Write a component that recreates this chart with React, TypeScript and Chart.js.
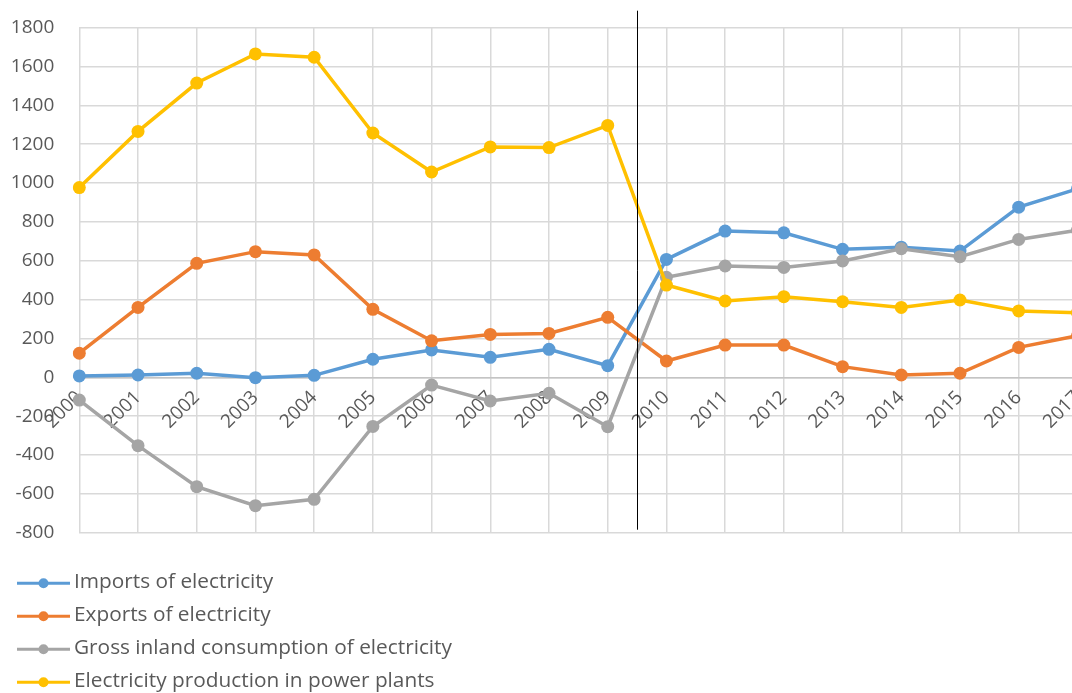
import React, { useEffect, useRef } from "react";
import { Chart, registerables } from "chart.js";

Chart.register(...registerables);

// Annual electricity balance, 2000–2017
const years = [
  "2000", "2001", "2002", "2003", "2004", "2005", "2006", "2007", "2008",
  "2009", "2010", "2011", "2012", "2013", "2014", "2015", "2016", "2017",
];
const importsOfElectricity = [7, 12, 21, -2, 10, 93, 141, 103, 144, 60, 607, 753, 744, 659, 670, 650, 876, 970];
const exportsOfElectricity = [124, 360, 587, 647, 630, 350, 188, 221, 226, 309, 84, 166, 166, 55, 12, 21, 154, 214];
const grossInlandConsumption = [-117, -352, -563, -661, -628, -253, -40, -122, -82, -254, 515, 573, 566, 599, 662, 621, 710, 757];
const powerPlantProduction = [977, 1266, 1515, 1665, 1648, 1258, 1057, 1186, 1183, 1297, 475, 393, 415, 389, 360, 398, 342, 333];

const seriesLabels = [
  "Imports of electricity",
  "Exports of electricity",
  "Gross inland consumption of electricity",
  "Electricity production in power plants",
];
const seriesColors = ["#5B9BD5", "#ED7D31", "#A5A5A5", "#FFC000"];

const yMin = -800;
const yMax = 1800;
const yStep = 200;

// the divider sits halfway between these two years
const dividerBetween = ["2009", "2010"];

const FONT = "'Open Sans', sans-serif";
const TEXT_COLOR = "#595959";
const GRID_COLOR = "#d9d9d9";

const CANVAS_W = 1100;
const CANVAS_H = 693;

const dividerPlugin = {
  id: "periodDivider",
  afterDatasetsDraw(chart: any) {
    const x = chart.scales.x;
    const a = years.indexOf(dividerBetween[0]);
    const b = years.indexOf(dividerBetween[1]);
    const px = Math.round((x.getPixelForValue(a) + x.getPixelForValue(b)) / 2) + 0.5;
    const { top, bottom } = chart.chartArea;
    const ctx = chart.ctx;
    ctx.save();
    ctx.strokeStyle = "#000000";
    ctx.lineWidth = 1;
    ctx.beginPath();
    ctx.moveTo(px, top - 17);
    ctx.lineTo(px, bottom - 3);
    ctx.stroke();
    ctx.restore();
  },
};

// vertical legend: one row per series, line + marker + label
const stackedLegendPlugin = {
  id: "stackedLegend",
  afterDraw(chart: any) {
    const ctx = chart.ctx;
    const rowTop = chart.chartArea.bottom + 50.5;
    const rowGap = 33;
    ctx.save();
    chart.data.datasets.forEach((ds: any, i: number) => {
      const y = rowTop + i * rowGap;
      ctx.strokeStyle = ds.borderColor;
      ctx.lineWidth = 3;
      ctx.beginPath();
      ctx.moveTo(17, y);
      ctx.lineTo(70, y);
      ctx.stroke();
      ctx.fillStyle = ds.borderColor;
      ctx.beginPath();
      ctx.arc(43.5, y, 5, 0, Math.PI * 2);
      ctx.fill();
      ctx.fillStyle = TEXT_COLOR;
      ctx.font = `20.8px ${FONT}`;
      ctx.textBaseline = "middle";
      ctx.textAlign = "left";
      ctx.fillText(ds.label, 74, y - 1);
    });
    ctx.restore();
  },
};

export default function App() {
  const canvasRef = useRef<HTMLCanvasElement | null>(null);

  useEffect(() => {
    if (!canvasRef.current) return;
    const seriesData = [
      importsOfElectricity,
      exportsOfElectricity,
      grossInlandConsumption,
      powerPlantProduction,
    ];
    const chart = new Chart(canvasRef.current, {
      type: "line",
      data: {
        labels: years,
        datasets: seriesData.map((d, i) => ({
          label: seriesLabels[i],
          data: d,
          borderColor: seriesColors[i],
          backgroundColor: seriesColors[i],
          pointBackgroundColor: seriesColors[i],
          pointBorderColor: seriesColors[i],
          borderWidth: 3.5,
          pointRadius: 6.5,
          pointHoverRadius: 6.5,
          pointBorderWidth: 0,
          tension: 0,
          fill: false,
          order: seriesData.length - i,
        })),
      },
      options: {
        responsive: false,
        animation: false,
        devicePixelRatio: 1,
        layout: {
          padding: { left: 0, top: 27.7, right: CANVAS_W - 1077.4, bottom: CANVAS_H - 532.7 },
        },
        plugins: {
          legend: { display: false },
          title: { display: false },
          tooltip: { enabled: false },
        },
        scales: {
          x: {
            type: "category",
            position: { y: 0 },
            offset: false,
            grid: { color: GRID_COLOR, lineWidth: 1.5, drawTicks: false },
            border: { display: true, color: "#c4c4c4", width: 1.5 },
            ticks: {
              autoSkip: false,
              minRotation: 45,
              maxRotation: 45,
              padding: 9,
              color: TEXT_COLOR,
              font: { family: FONT, size: 19 },
            },
            afterFit(scale: any) {
              scale.height = 0;
              scale.paddingLeft = 0;
              scale.paddingRight = 0;
            },
          },
          y: {
            min: yMin,
            max: yMax,
            grid: { color: GRID_COLOR, lineWidth: 1.5, drawTicks: false },
            border: { display: false },
            ticks: {
              stepSize: yStep,
              padding: 25,
              color: TEXT_COLOR,
              font: { family: FONT, size: 19 },
              callback: (v: any) => String(v),
            },
            afterFit(scale: any) {
              scale.width = 79.3;
              scale.paddingTop = 0;
              scale.paddingBottom = 0;
            },
          },
        },
      },
      plugins: [dividerPlugin, stackedLegendPlugin],
    } as any);
    return () => chart.destroy();
  }, []);

  return (
    <div
      style={{
        position: "fixed",
        left: 0,
        top: 0,
        width: 1072,
        height: 693,
        overflow: "hidden",
        background: "#ffffff",
      }}
    >
      <canvas
        ref={canvasRef}
        width={CANVAS_W}
        height={CANVAS_H}
        style={{ display: "block", width: CANVAS_W, height: CANVAS_H }}
      />
    </div>
  );
}
